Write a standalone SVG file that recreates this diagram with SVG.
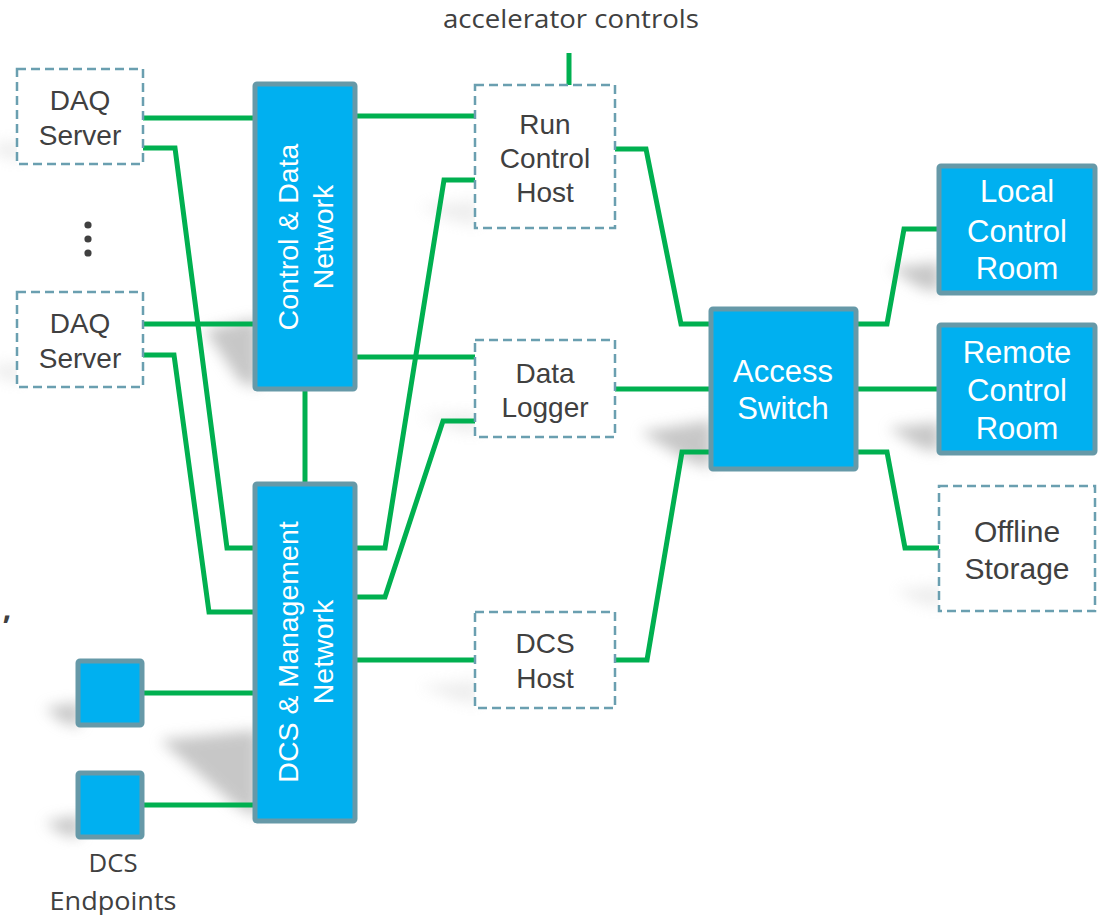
<svg xmlns="http://www.w3.org/2000/svg" width="1101" height="915" viewBox="0 0 1101 915">
<style>
.dash{fill:#fff;stroke:#6a9fb0;stroke-width:2.5;stroke-dasharray:9 5}
.blue{fill:#00b0f0;stroke:#6699a8;stroke-width:5}
.lbl{font-family:"Liberation Sans",Arial,sans-serif;font-size:28px;fill:#404040;text-anchor:middle}
.wl{font-family:"Liberation Sans",Arial,sans-serif;font-size:28.5px;fill:#fff;text-anchor:middle}
.wr{font-family:"Liberation Sans",Arial,sans-serif;font-size:31px;fill:#fff;text-anchor:middle}
.cal{font-family:"Open Sans","Liberation Sans",sans-serif;font-size:25px;fill:#404040;text-anchor:middle}
.conn{fill:none;stroke:#00b050;stroke-width:5}
.sh{fill:#9a9a9a;opacity:0.55;filter:url(#blur)}
.shl{fill:#cfcfcf;opacity:0.35;filter:url(#blur)}
</style>
<defs>
<filter id="blur" x="-50%" y="-50%" width="200%" height="200%"><feGaussianBlur stdDeviation="7"/></filter>
</defs>
<rect width="1101" height="915" fill="#fff"/>
<g id="shadows">
<polygon class="sh" points="258,318 258,388 240,382 205,330"/>
<polygon class="sh" points="258,730 258,818 235,805 160,740"/>
<polygon class="sh" points="80,702 80,727 62,722 45,708"/>
<polygon class="sh" points="80,815 80,838 62,834 45,822"/>
<polygon class="sh" points="712,420 712,468 690,462 640,432"/>
<polygon class="sh" points="940,262 940,292 920,288 890,268"/>
<polygon class="sh" points="940,422 940,452 920,448 888,428"/>
<polygon class="shl" points="20,140 20,162 0,156 -10,145"/>
<polygon class="shl" points="20,362 20,384 0,378 -10,366"/>
<polygon class="shl" points="478,200 478,226 450,220 420,206"/>
<polygon class="shl" points="478,412 478,434 455,430 420,416"/>
<polygon class="shl" points="478,680 478,705 455,700 420,686"/>
<polygon class="shl" points="942,585 942,608 920,604 895,590"/>
</g>
<g id="connectors">
<polyline class="conn" points="143,118 255,118"/>
<polyline class="conn" points="143,148 175,148 227,548 255,548"/>
<polyline class="conn" points="143,324 255,324"/>
<polyline class="conn" points="143,355 174,355 209,612 255,612"/>
<polyline class="conn" points="355,116 475,116"/>
<polyline class="conn" points="355,357 475,357"/>
<polyline class="conn" points="305,390 305,483"/>
<polyline class="conn" points="355,548 385,548 444,180 475,180"/>
<polyline class="conn" points="355,597 385,597 443,421 475,421"/>
<polyline class="conn" points="355,660 475,660"/>
<polyline class="conn" points="144,693 255,693"/>
<polyline class="conn" points="144,805 255,805"/>
<polyline class="conn" points="569,53 569,85"/>
<polyline class="conn" points="615,149 646,149 681,324 710,324"/>
<polyline class="conn" points="615,389 710,389"/>
<polyline class="conn" points="615,660 647,660 682,452 710,452"/>
<polyline class="conn" points="857,324 887,324 904,229 937,229"/>
<polyline class="conn" points="857,389 937,389"/>
<polyline class="conn" points="857,452 887,452 905,548 939,548"/>
</g>
<g id="accel-label">
<text class="cal" x="571" y="28" textLength="256" lengthAdjust="spacingAndGlyphs">accelerator controls</text>
</g>
<g id="daq1">
<rect class="dash" x="17" y="69" width="126" height="95"/>
<text class="lbl" x="80" y="110">DAQ</text>
<text class="lbl" x="80" y="145">Server</text>
</g>
<g id="ellipsis">
<circle cx="88" cy="225" r="3.6" fill="#404040"/>
<circle cx="88" cy="239" r="3.6" fill="#404040"/>
<circle cx="88" cy="253" r="3.6" fill="#404040"/>
</g>
<g id="daq2">
<rect class="dash" x="17" y="292" width="126" height="95"/>
<text class="lbl" x="80" y="333">DAQ</text>
<text class="lbl" x="80" y="368">Server</text>
</g>
<g id="stray-comma">
<text class="cal" style="font-size:30px;font-weight:bold" x="7" y="619">,</text>
</g>
<g id="cd-network">
<rect class="blue" x="255" y="84" width="100" height="305" rx="2"/>
<g transform="translate(305,237) rotate(-90)">
<text class="wl" x="0" y="-7">Control &amp; Data</text>
<text class="wl" x="0" y="28">Network</text>
</g>
</g>
<g id="dcs-network">
<rect class="blue" x="255" y="484" width="100" height="337" rx="2"/>
<g transform="translate(305,652) rotate(-90)">
<text class="wl" x="0" y="-7">DCS &amp; Management</text>
<text class="wl" x="0" y="28">Network</text>
</g>
</g>
<g id="endpoint1">
<rect class="blue" x="78" y="661" width="64" height="64" rx="2"/>
</g>
<g id="endpoint2">
<rect class="blue" x="78" y="773" width="64" height="64" rx="2"/>
</g>
<g id="endpoints-label">
<text class="cal" x="113" y="872" textLength="49" lengthAdjust="spacingAndGlyphs">DCS</text>
<text class="cal" x="113" y="910" textLength="127" lengthAdjust="spacingAndGlyphs">Endpoints</text>
</g>
<g id="run-control">
<rect class="dash" x="475" y="85" width="140" height="143"/>
<text class="lbl" x="545" y="134">Run</text>
<text class="lbl" x="545" y="168">Control</text>
<text class="lbl" x="545" y="202">Host</text>
</g>
<g id="data-logger">
<rect class="dash" x="475" y="340" width="140" height="97"/>
<text class="lbl" x="545" y="383">Data</text>
<text class="lbl" x="545" y="417">Logger</text>
</g>
<g id="dcs-host">
<rect class="dash" x="475" y="612" width="140" height="96"/>
<text class="lbl" x="545" y="653">DCS</text>
<text class="lbl" x="545" y="688">Host</text>
</g>
<g id="access-switch">
<rect class="blue" x="711" y="309" width="145" height="160" rx="2"/>
<text class="wr" x="783" y="382">Access</text>
<text class="wr" x="783" y="419">Switch</text>
</g>
<g id="local-control">
<rect class="blue" x="939" y="166" width="156" height="127" rx="2"/>
<text class="wr" x="1017" y="202">Local</text>
<text class="wr" x="1017" y="242">Control</text>
<text class="wr" x="1017" y="279">Room</text>
</g>
<g id="remote-control">
<rect class="blue" x="939" y="325" width="156" height="128" rx="2"/>
<text class="wr" x="1017" y="363">Remote</text>
<text class="wr" x="1017" y="401">Control</text>
<text class="wr" x="1017" y="439">Room</text>
</g>
<g id="offline-storage">
<rect class="dash" x="939" y="486" width="156" height="125"/>
<text class="lbl" style="font-size:30px" x="1017" y="542">Offline</text>
<text class="lbl" style="font-size:30px" x="1017" y="579">Storage</text>
</g>
</svg>
